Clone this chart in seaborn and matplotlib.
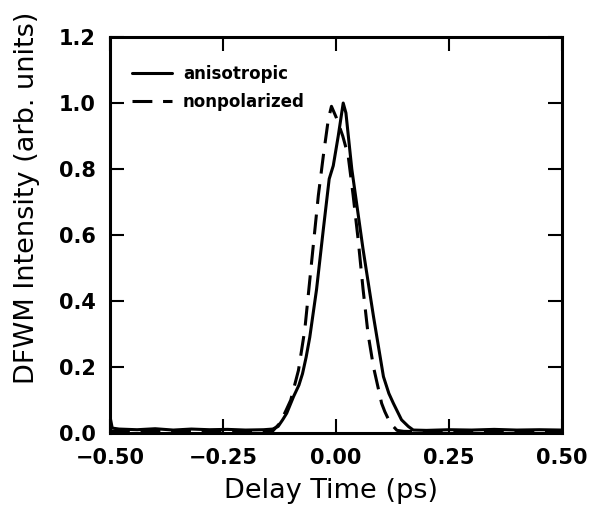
import matplotlib
matplotlib.use("Agg")
import matplotlib.pyplot as plt
import seaborn as sns
import pandas as pd


# ==========================================
# DATOS
# ==========================================

t_aniso = [-0.500, -0.495, -0.48, -0.44, -0.40, -0.36, -0.32, -0.28, -0.24,
           -0.20, -0.16, -0.14, -0.128, -0.118, -0.109, -0.094, -0.082,
           -0.074, -0.066, -0.058, -0.043, -0.028, -0.015, -0.006, 0.005,
           0.016, 0.022, 0.035, 0.060, 0.083, 0.105, 0.117, 0.127, 0.145,
           0.160, 0.171, 0.20, 0.25, 0.30, 0.35, 0.40, 0.45, 0.50]
i_aniso = [0.05, 0.015, 0.012, 0.010, 0.013, 0.009, 0.012, 0.010, 0.011,
           0.009, 0.010, 0.012, 0.02, 0.04, 0.06, 0.11, 0.145,
           0.18, 0.23, 0.29, 0.435, 0.617, 0.77, 0.81, 0.90,
           1.00, 0.97, 0.80, 0.556, 0.353, 0.171, 0.12, 0.09, 0.04,
           0.02, 0.009, 0.008, 0.010, 0.009, 0.011, 0.009, 0.010, 0.009]

t_nonpol = [-0.50, -0.45, -0.40, -0.35, -0.30, -0.25, -0.20, -0.14, -0.124,
            -0.110, -0.100, -0.083, -0.069, -0.054, -0.039, -0.028, -0.017,
            -0.010, 0.001, 0.015, 0.027, 0.038, 0.049, 0.060, 0.071, 0.083,
            0.101, 0.108, 0.120, 0.135, 0.15, 0.20, 0.25, 0.30, 0.35, 0.40,
            0.45, 0.50]
i_nonpol = [0.005, 0.004, 0.006, 0.005, 0.004, 0.005, 0.004, 0.006, 0.03,
            0.07, 0.10, 0.19, 0.313, 0.517, 0.72, 0.84, 0.95,
            0.99, 0.955, 0.90, 0.84, 0.72, 0.587, 0.435, 0.30, 0.20,
            0.09, 0.065, 0.03, 0.008, 0.005, 0.004, 0.005, 0.004, 0.005, 0.004,
            0.005, 0.004]

etiquetas = ["anisotropic", "nonpolarized"]

x_ticks = [-0.50, -0.25, 0.00, 0.25, 0.50]
y_ticks = [0.0, 0.2, 0.4, 0.6, 0.8, 1.0, 1.2]


# ==========================================
# TABLA PARA SEABORN
# ==========================================

df = pd.concat([
    pd.DataFrame({"t": t_aniso, "I": i_aniso, "serie": etiquetas[0]}),
    pd.DataFrame({"t": t_nonpol, "I": i_nonpol, "serie": etiquetas[1]}),
])


# ==========================================
# GRÁFICA
# ==========================================

sns.set_style("ticks")
plt.rcParams["font.family"] = ["DejaVu Sans"]
plt.rcParams["text.color"] = "black"

fig = plt.figure(figsize=(5.9, 5.08), dpi=100)
ax = fig.add_axes([0.1864, 0.1476, 0.7661, 0.7795])

sns.lineplot(
    data=df,
    x="t",
    y="I",
    hue="serie",
    style="serie",
    palette=["black", "black"],
    dashes={etiquetas[0]: "", etiquetas[1]: (6.5, 3.5)},
    linewidth=2.2,
    sort=False,
    ax=ax
)

ax.set_xlim(-0.5, 0.5)
ax.set_ylim(0.0, 1.2)
ax.set_xticks(x_ticks)
ax.set_yticks(y_ticks)
ax.set_xticklabels(["\u22120.50", "\u22120.25", "0.00", "0.25", "0.50"])
ax.set_yticklabels([f"{v:.1f}" for v in y_ticks])

for lbl in ax.get_xticklabels() + ax.get_yticklabels():
    lbl.set_fontweight("bold")
    lbl.set_fontsize(15)

ax.tick_params(direction="in", length=10, width=1.5,
               top=True, right=True, colors="black")
ax.tick_params(axis="x", pad=11)
ax.tick_params(axis="y", pad=10.5)

for s in ax.spines.values():
    s.set_linewidth(2.2)
    s.set_color("black")

ax.set_xlabel("Delay Time (ps)", fontsize=19.5, color="black")
ax.set_ylabel("DFWM Intensity (arb. units)", fontsize=19.5, color="black")
ax.xaxis.set_label_coords(0.49, -0.113)
ax.yaxis.set_label_coords(-0.155, 0.595)

leg = ax.legend(
    loc="upper left",
    bbox_to_anchor=(0.016, 0.967),
    frameon=False,
    handlelength=2.4,
    handletextpad=0.65,
    labelspacing=0.6,
    labelcolor="black",
    prop={"weight": "bold", "size": 12}
)

fig.savefig("out.png", dpi=100)
